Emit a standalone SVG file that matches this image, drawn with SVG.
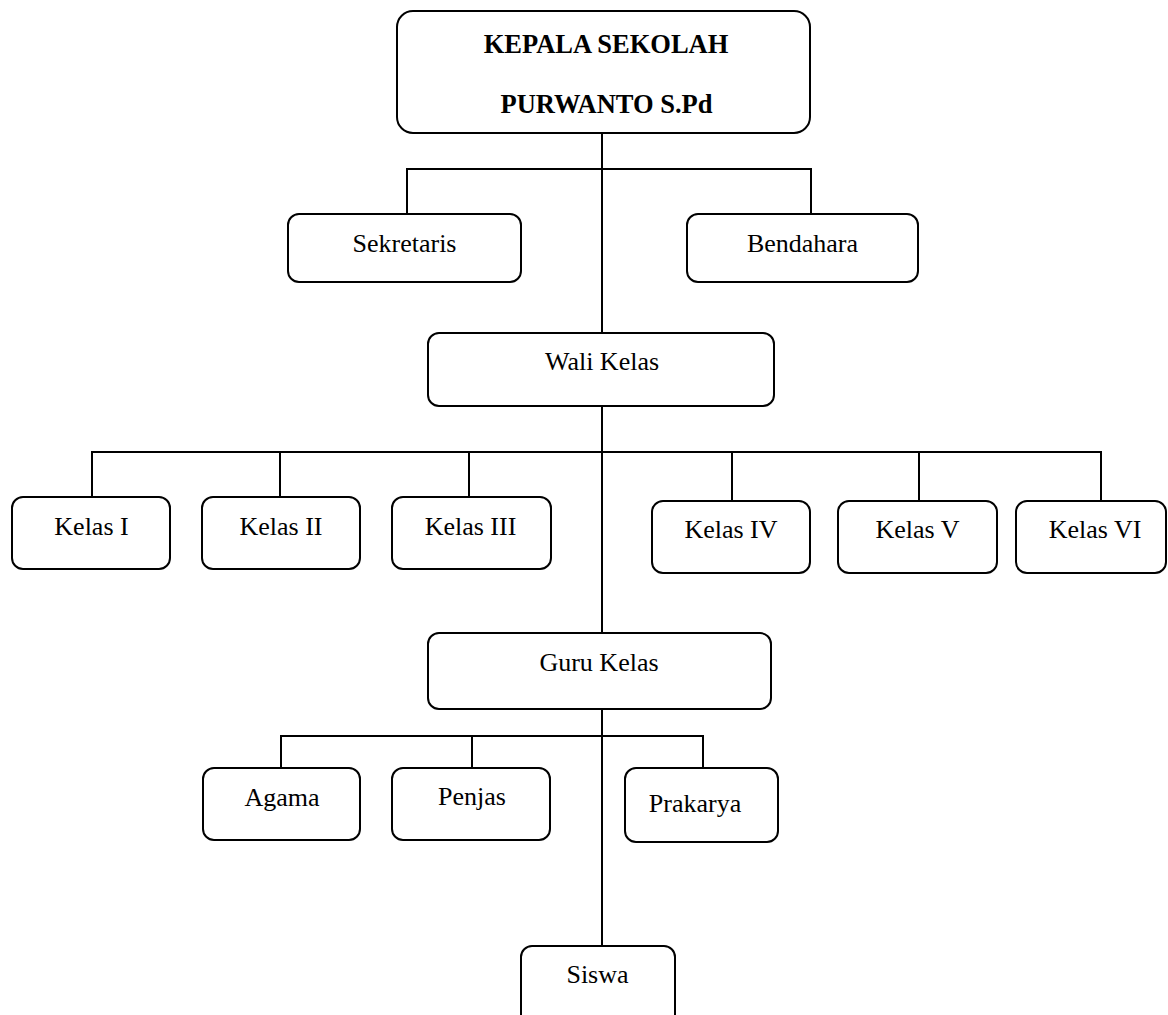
<svg xmlns="http://www.w3.org/2000/svg" width="1168" height="1015" viewBox="0 0 1168 1015">
<style>
.box{fill:#fff;stroke:#000;stroke-width:2}
.t{font-family:"Liberation Serif","Times New Roman",serif;font-size:26px;text-anchor:middle;fill:#000}
.b{font-weight:bold;font-size:26.5px}
.c{fill:none;stroke:#000;stroke-width:2}
</style>
<rect width="1168" height="1015" fill="#fff"/>
<g id="connectors">
<path class="c" d="M602,133 V333"/>
<path class="c" d="M407,214 V169 H811 V214"/>
<path class="c" d="M602,406 V633"/>
<path class="c" d="M92,497 V452 H1101 V501"/>
<path class="c" d="M280,452 V497"/>
<path class="c" d="M469,452 V497"/>
<path class="c" d="M732,452 V501"/>
<path class="c" d="M919,452 V501"/>
<path class="c" d="M602,709 V946"/>
<path class="c" d="M281,768 V736 H703 V768"/>
<path class="c" d="M472,736 V768"/>
</g>
<g id="kepala"><rect class="box" x="397" y="11" width="413" height="122" rx="16"/><text class="t b" x="606" y="53">KEPALA SEKOLAH</text><text class="t b" x="606.5" y="113">PURWANTO S.Pd</text></g>
<g id="sekretaris"><rect class="box" x="288" y="214" width="233" height="68" rx="11"/><text class="t" x="404.5" y="252">Sekretaris</text></g>
<g id="bendahara"><rect class="box" x="687" y="214" width="231" height="68" rx="11"/><text class="t" x="802.5" y="252">Bendahara</text></g>
<g id="wali"><rect class="box" x="428" y="333" width="346" height="73" rx="11"/><text class="t" x="602" y="370">Wali Kelas</text></g>
<g id="kelas1"><rect class="box" x="12" y="497" width="158" height="72" rx="11"/><text class="t" x="91.5" y="535">Kelas I</text></g>
<g id="kelas2"><rect class="box" x="202" y="497" width="158" height="72" rx="11"/><text class="t" x="281" y="535">Kelas II</text></g>
<g id="kelas3"><rect class="box" x="392" y="497" width="159" height="72" rx="11"/><text class="t" x="470.5" y="535">Kelas III</text></g>
<g id="kelas4"><rect class="box" x="652" y="501" width="158" height="72" rx="11"/><text class="t" x="731" y="538">Kelas IV</text></g>
<g id="kelas5"><rect class="box" x="838" y="501" width="159" height="72" rx="11"/><text class="t" x="917.5" y="538">Kelas V</text></g>
<g id="kelas6"><rect class="box" x="1016" y="501" width="150" height="72" rx="11"/><text class="t" x="1095" y="538">Kelas VI</text></g>
<g id="guru"><rect class="box" x="428" y="633" width="343" height="76" rx="11"/><text class="t" x="599" y="671">Guru Kelas</text></g>
<g id="agama"><rect class="box" x="203" y="768" width="157" height="72" rx="11"/><text class="t" x="282" y="806">Agama</text></g>
<g id="penjas"><rect class="box" x="392" y="768" width="158" height="72" rx="11"/><text class="t" x="472" y="805">Penjas</text></g>
<g id="prakarya"><rect class="box" x="625" y="768" width="153" height="74" rx="11"/><text class="t" x="695" y="812">Prakarya</text></g>
<g id="siswa"><rect class="box" x="521" y="946" width="154" height="90" rx="11"/><text class="t" x="597.5" y="983">Siswa</text></g>
</svg>
